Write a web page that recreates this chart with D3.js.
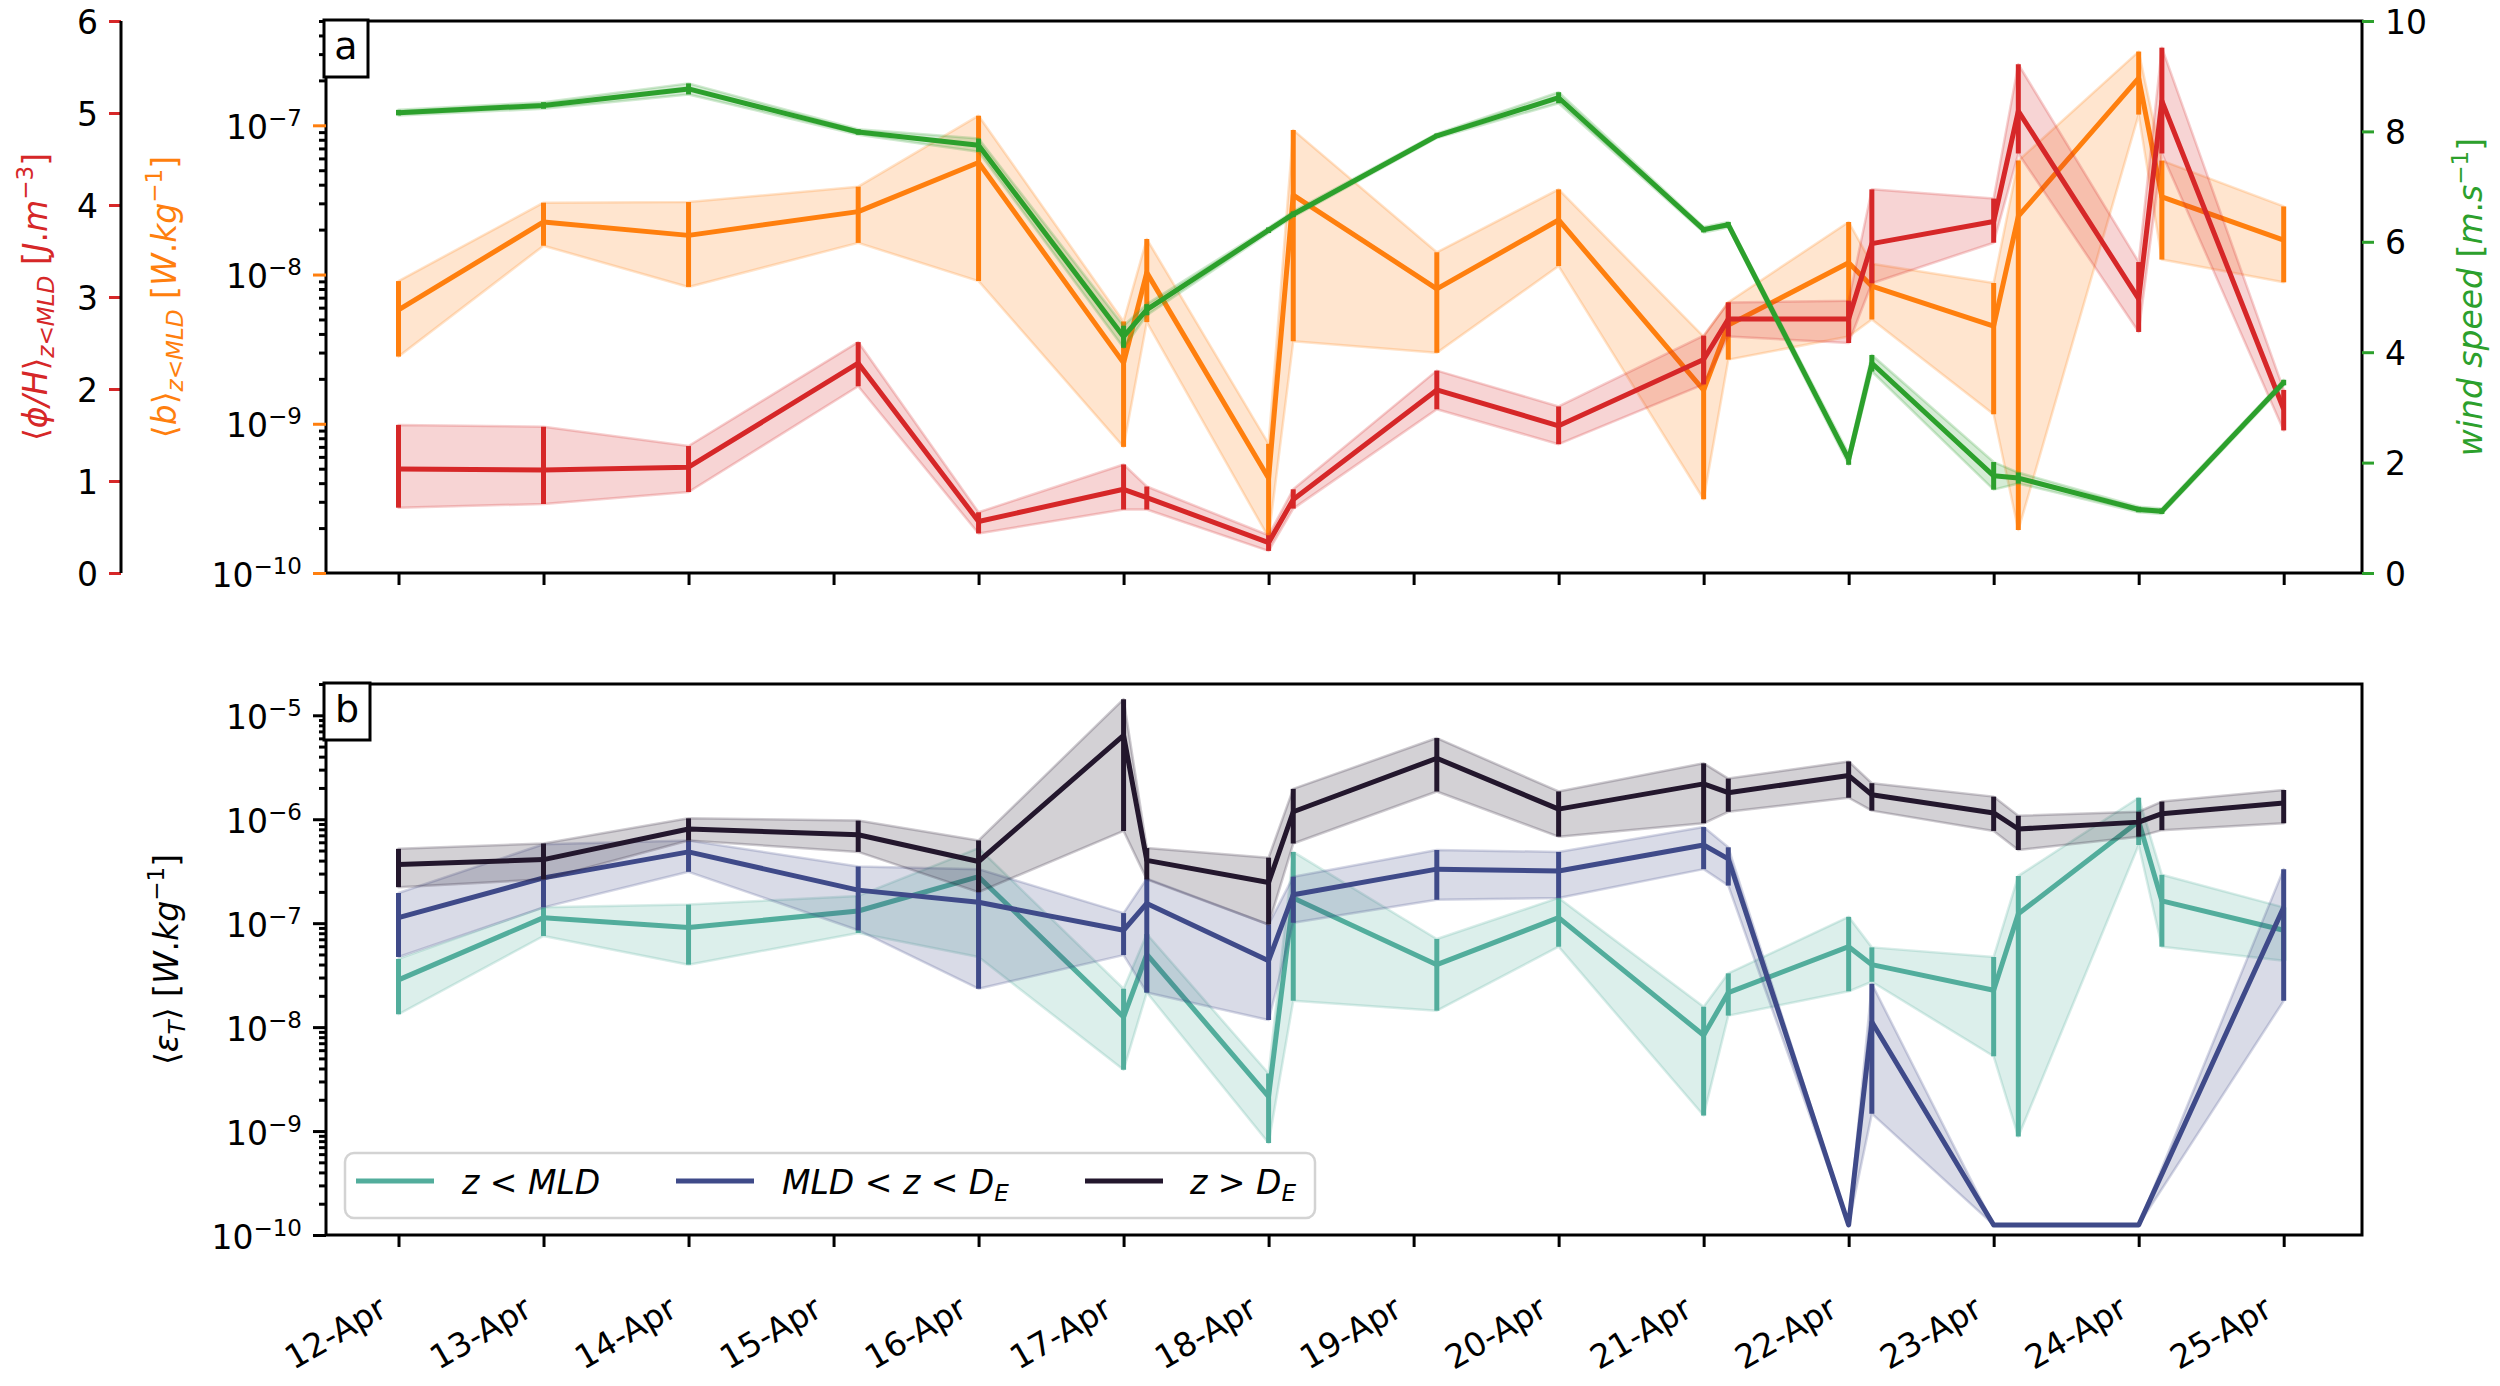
<!DOCTYPE html>
<html><head><meta charset="utf-8">
<script src="https://cdn.jsdelivr.net/npm/d3@7"></script>
<style>
body{margin:0;background:#fff}
svg{display:block}
text{font-family:"DejaVu Sans",sans-serif;white-space:pre}
</style>
</head><body>
<svg id="c" width="2500" height="1386"></svg>
<script>
// ---------------- DATA ----------------
const dayTicks = [0,1,2,3,4,5,6,7,8,9,10,11,12,13];
const dayLabels = ["12-Apr","13-Apr","14-Apr","15-Apr","16-Apr","17-Apr","18-Apr","19-Apr","20-Apr","21-Apr","22-Apr","23-Apr","24-Apr","25-Apr"];
// days since 12-Apr 00:00
const times = [0,1,2,3.17,4,5,5.16,6,6.17,7.16,8,9,9.17,10,10.16,11,11.17,12,12.16,13];

// panel a : <phi/H> (J m-3), linear outer axis
const phiH     = [1.13,1.12,1.15,2.28,0.56,0.91,0.82,0.33,0.80,1.99,1.60,2.32,2.76,2.76,3.58,3.82,5.02,2.98,5.13,1.78];
const phiHLow  = [0.71,0.75,0.88,2.03,0.43,0.69,0.69,0.24,0.70,1.78,1.40,2.05,2.57,2.50,3.15,3.59,4.56,2.62,4.56,1.55];
const phiHHigh = [1.61,1.59,1.38,2.51,0.66,1.18,0.94,0.41,0.91,2.20,1.81,2.58,2.94,2.96,4.17,4.07,5.53,3.38,5.71,1.99];

// panel a : <b> (W kg-1), log axis
const buoy     = [5.80e-9,2.25e-8,1.83e-8,2.64e-8,5.63e-8,2.56e-9,1.03e-8,4.31e-10,3.41e-8,8.02e-9,2.32e-8,1.68e-9,4.58e-9,1.20e-8,8.36e-9,4.52e-9,2.46e-8,2.07e-7,3.31e-8,1.70e-8];
const buoyLow  = [2.82e-9,1.56e-8,8.26e-9,1.63e-8,9.04e-9,7.0e-10,4.80e-9,1.73e-10,3.57e-9,2.99e-9,1.14e-8,3.12e-10,2.69e-9,3.84e-9,5.0e-9,1.16e-9,1.94e-10,1.18e-7,1.26e-8,8.87e-9];
const buoyHigh = [9.04e-9,3.03e-8,3.06e-8,3.88e-8,1.16e-7,4.85e-9,1.73e-8,7.34e-10,9.29e-8,1.41e-8,3.72e-8,3.84e-9,6.52e-9,2.25e-8,1.18e-8,8.77e-9,5.80e-8,3.12e-7,5.80e-8,2.86e-8];

// panel a : wind speed (m s-1)
const wind     = [8.34,8.47,8.77,7.99,7.75,4.28,4.77,6.21,6.50,7.92,8.61,6.22,6.31,2.06,3.80,1.76,1.72,1.15,1.12,3.45];
const windLow  = [8.29,8.41,8.67,7.94,7.63,4.08,4.67,6.16,6.45,7.88,8.51,6.17,6.26,1.96,3.65,1.51,1.62,1.10,1.07,3.40];
const windHigh = [8.39,8.53,8.87,8.04,7.87,4.48,4.87,6.26,6.55,7.96,8.71,6.27,6.36,2.16,3.95,2.01,1.82,1.20,1.17,3.50];

// panel b : <eps_T> (W kg-1)
const epsMLD     = [2.85e-8,1.13e-7,9.08e-8,1.31e-7,2.80e-7,1.25e-8,5.02e-8,2.15e-9,1.75e-7,3.99e-8,1.13e-7,8.34e-9,2.15e-8,5.94e-8,3.99e-8,2.26e-8,1.23e-7,9.55e-7,1.64e-7,8.55e-8];
const epsMLDLow  = [1.33e-8,7.53e-8,3.99e-8,8.05e-8,4.73e-8,3.89e-9,2.15e-8,7.67e-10,1.79e-8,1.44e-8,5.94e-8,1.41e-9,1.29e-8,2.21e-8,2.73e-8,5.24e-9,8.85e-10,5.65e-7,5.94e-8,4.35e-8];
const epsMLDHigh = [4.53e-8,1.42e-7,1.51e-7,1.83e-7,5.28e-7,2.34e-8,7.86e-8,3.58e-9,4.85e-7,7.05e-8,1.75e-7,1.57e-8,3.29e-8,1.15e-7,5.85e-8,4.73e-8,2.85e-7,1.61e-6,2.92e-7,1.42e-7];

const epsMid     = [1.13e-7,2.73e-7,4.85e-7,2.08e-7,1.59e-7,8.55e-8,1.55e-7,4.35e-8,1.88e-7,3.31e-7,3.18e-7,5.65e-7,4.16e-7,1.25e-10,1.12e-8,1.25e-10,1.25e-10,1.25e-10,null,1.42e-7];
const epsMidLow  = [4.73e-8,1.42e-7,3.12e-7,8.55e-8,2.34e-8,4.93e-8,2.15e-8,1.17e-8,1.01e-7,1.68e-7,1.75e-7,3.31e-7,2.30e-7,1.25e-10,1.47e-9,1.25e-10,1.25e-10,1.25e-10,null,1.79e-8];
const epsMidHigh = [1.95e-7,5.75e-7,6.25e-7,3.51e-7,3.31e-7,1.25e-7,2.68e-7,9.71e-8,2.80e-7,5.06e-7,4.85e-7,8.41e-7,5.37e-7,1.25e-10,2.61e-8,1.25e-10,1.25e-10,1.25e-10,null,3.31e-7];

const epsDeep     = [3.67e-7,4.09e-7,8.05e-7,7.09e-7,3.92e-7,6.41e-6,4.02e-7,2.46e-7,1.18e-6,3.86e-6,1.25e-6,2.19e-6,1.80e-6,2.63e-6,1.72e-6,1.15e-6,8.05e-7,9.38e-7,1.13e-6,1.43e-6];
const epsDeepLow  = [2.22e-7,2.64e-7,6.25e-7,4.85e-7,1.99e-7,7.72e-7,2.64e-7,9.71e-8,5.84e-7,1.85e-6,6.80e-7,9.14e-7,1.18e-6,1.61e-6,1.21e-6,7.72e-7,5.06e-7,6.80e-7,7.85e-7,9.14e-7];
const epsDeepHigh = [5.19e-7,5.84e-7,1.02e-6,9.70e-7,6.25e-7,1.43e-5,5.28e-7,4.27e-7,1.96e-6,6.04e-6,1.85e-6,3.45e-6,2.46e-6,3.60e-6,2.22e-6,1.65e-6,1.08e-6,1.18e-6,1.48e-6,1.91e-6];

const phiTicks  = [0,1,2,3,4,5,6];
const windTicks = [0,2,4,6,8,10];
const buoyExps  = [-10,-9,-8,-7];
const epsExps   = [-10,-9,-8,-7,-6,-5];

// ---------------- STYLE ----------------
const C = {red:"#d62728", orange:"#ff7f0e", green:"#2ca02c", teal:"#52ad9c", navy:"#3f4a89", dark:"#23172d"};
const FS = 33;
const LW = 5;
const svg = d3.select("#c");

// panel geometry
const L = 326, R = 2362;
const aTop = 21, aBot = 573, bTop = 684, bBot = 1235;

const x = d3.scaleLinear().domain([-0.5, 13.54]).range([L, R]);
const yPhi  = d3.scaleLinear().domain([0, 6]).range([aBot, aTop]);
const yBuoy = d3.scaleLog().domain([1e-10, 5e-7]).range([aBot, aTop]);
const yWind = d3.scaleLinear().domain([0, 10]).range([aBot, aTop]);
const yEps  = d3.scaleLog().domain([1e-10, 2e-5]).range([bBot, bTop]);

function series(g, ys, lo, hi, yS, color, lw) {
  const data = times.map((t,i)=>({t, v:ys[i], lo:lo[i], hi:hi[i]})).filter(d=>d.v!=null);
  const area = d3.area().x(d=>x(d.t)).y0(d=>yS(d.lo)).y1(d=>yS(d.hi));
  g.append("path").attr("d", area(data))
    .attr("fill", color).attr("fill-opacity", 0.2)
    .attr("stroke", color).attr("stroke-opacity", 0.22).attr("stroke-width", 2.5)
    .attr("stroke-linejoin","round");
  const line = d3.line().x(d=>x(d.t)).y(d=>yS(d.v));
  g.append("path").attr("d", line(data)).attr("fill","none")
    .attr("stroke", color).attr("stroke-width", lw).attr("stroke-linejoin","round");
  g.selectAll(null).data(data).join("line")
    .attr("x1", d=>x(d.t)).attr("x2", d=>x(d.t))
    .attr("y1", d=>yS(d.lo)).attr("y2", d=>yS(d.hi))
    .attr("stroke", color).attr("stroke-width", lw);
}

function mathText(parent, segs, fs) {
  const t = parent.append("text").attr("font-size", fs);
  let cur = 0;
  segs.forEach(s => {
    const target = s.sub ? fs*0.2 : (s.sup ? -fs*0.42 : 0);
    const ts = t.append("tspan").text(s.t);
    if (target !== cur) { ts.attr("dy", target - cur); cur = target; }
    if (s.i) ts.attr("font-style","italic");
    if (s.sub || s.sup) ts.attr("font-size", fs*0.7);
  });
  return t;
}

function styleAxis(g, tickColor) {
  g.attr("font-family", null).attr("font-size", null);
  g.select(".domain").remove();
  g.selectAll(".tick line").attr("stroke", tickColor).attr("stroke-width", 3);
}

function logAxis(g, yS, exps, minorColor, majorColor) {
  const lo = yS.domain()[0], hi = yS.domain()[1];
  const minors = [];
  for (let e = -10; e <= -5; e++) for (let m = 2; m <= 9; m++) { const v = m*Math.pow(10,e); if (v >= lo && v <= hi*1.0001) minors.push(v); }
  const gm = g.append("g").call(d3.axisLeft(yS).tickValues(minors).tickSize(7).tickFormat(""));
  styleAxis(gm, minorColor);
  const gM = g.append("g").call(d3.axisLeft(yS).tickValues(exps.map(e=>Math.pow(10,e))).tickSize(13).tickFormat(""));
  styleAxis(gM, majorColor);
  gM.selectAll(".tick").each(function(d){
    const e = Math.round(Math.log10(d));
    const t = d3.select(this).select("text").attr("x", -24).attr("y", 13).attr("dy", null)
      .attr("text-anchor","end").attr("font-size", FS).attr("fill","#000");
    t.append("tspan").text("10");
    t.append("tspan").text("\u2212" + (-e)).attr("font-size", 23).attr("dy", -13);
  });
}

// ---------------- PANEL A ----------------
const gA = svg.append("g");
series(gA.append("g"), buoy, buoyLow, buoyHigh, yBuoy, C.orange, LW);
series(gA.append("g"), phiH, phiHLow, phiHHigh, yPhi, C.red, LW);
series(gA.append("g"), wind, windLow, windHigh, yWind, C.green, LW);

// frame
svg.append("rect").attr("x", L).attr("y", aTop).attr("width", R-L).attr("height", aBot-aTop)
  .attr("fill","none").attr("stroke","#000").attr("stroke-width",3);

// left log axis (orange major ticks)
logAxis(svg.append("g").attr("transform",`translate(${L},0)`), yBuoy, buoyExps, "#000", C.orange);

// outer red linear axis
{
  const g = svg.append("g").attr("transform","translate(121,0)")
    .call(d3.axisLeft(yPhi).tickValues(phiTicks).tickSize(12).tickSizeOuter(0).tickFormat(d3.format("d")));
  styleAxis(g, C.red);
  g.selectAll(".tick text").attr("x",-23).attr("dy",null).attr("y",12).attr("font-size",FS).attr("fill","#000");
  g.append("line").attr("x1",0).attr("x2",0).attr("y1",aTop).attr("y2",aBot).attr("stroke","#000").attr("stroke-width",3);
}
// right wind axis
{
  const g = svg.append("g").attr("transform",`translate(${R},0)`)
    .call(d3.axisRight(yWind).tickValues(windTicks).tickSize(12).tickSizeOuter(0).tickFormat(d3.format("d")));
  styleAxis(g, C.green);
  g.selectAll(".tick text").attr("x",23).attr("dy",null).attr("y",12).attr("font-size",FS).attr("fill","#000");
}
// bottom ticks panel a
{
  const g = svg.append("g").attr("transform",`translate(0,${aBot})`)
    .call(d3.axisBottom(x).tickValues(dayTicks).tickSize(12).tickFormat(""));
  styleAxis(g, "#000");
}

// axis labels panel a
const aMid = (aTop + aBot)/2;
mathText(svg.append("g").attr("transform",`translate(47,${aMid}) rotate(-90)`), [
  {t:"\u27E8"},{t:"\u03D5/H",i:1},{t:"\u27E9"},{t:"z<MLD",i:1,sub:1},{t:" ["},{t:"J",i:1},{t:"."},{t:"m",i:1},{t:"\u22123",sup:1},{t:"]"}
], FS).attr("text-anchor","middle").attr("fill", C.red);
mathText(svg.append("g").attr("transform",`translate(176,${aMid}) rotate(-90)`), [
  {t:"\u27E8"},{t:"b",i:1},{t:"\u27E9"},{t:"z<MLD",i:1,sub:1},{t:" ["},{t:"W",i:1},{t:"."},{t:"kg",i:1},{t:"\u22121",sup:1},{t:"]"}
], FS).attr("text-anchor","middle").attr("fill", C.orange);
mathText(svg.append("g").attr("transform",`translate(2482,${aMid}) rotate(-90)`), [
  {t:"wind speed",i:1},{t:" ["},{t:"m",i:1},{t:"."},{t:"s",i:1},{t:"\u22121",sup:1},{t:"]"}
], FS).attr("text-anchor","middle").attr("fill", C.green);

// panel letter
function panelLetter(letter, y0, w) {
  const g = svg.append("g");
  g.append("rect").attr("x", L-2).attr("y", y0).attr("width", w).attr("height", 57)
    .attr("fill","#fff").attr("stroke","#000").attr("stroke-width",3);
  g.append("text").attr("x", L-2+w/2).attr("y", y0+39).attr("text-anchor","middle")
    .attr("font-family","DejaVu Serif, serif").attr("font-size",38).text(letter);
}
panelLetter("a", aTop-1, 44);

// ---------------- PANEL B ----------------
const gB = svg.append("g");
series(gB.append("g"), epsMLD, epsMLDLow, epsMLDHigh, yEps, C.teal, LW);
series(gB.append("g"), epsMid, epsMidLow, epsMidHigh, yEps, C.navy, LW);
series(gB.append("g"), epsDeep, epsDeepLow, epsDeepHigh, yEps, C.dark, LW);

svg.append("rect").attr("x", L).attr("y", bTop).attr("width", R-L).attr("height", bBot-bTop)
  .attr("fill","none").attr("stroke","#000").attr("stroke-width",3);
logAxis(svg.append("g").attr("transform",`translate(${L},0)`), yEps, epsExps, "#000", "#000");
{
  const g = svg.append("g").attr("transform",`translate(0,${bBot})`)
    .call(d3.axisBottom(x).tickValues(dayTicks).tickSize(12).tickFormat(""));
  styleAxis(g, "#000");
  g.selectAll(".tick").each(function(d,i){
    d3.select(this).select("text").remove();
    d3.select(this).append("text").attr("transform","translate(-10,80) rotate(-30)")
      .attr("text-anchor","end").attr("font-size",FS).attr("fill","#000").text(dayLabels[i]);
  });
}
const bMid = (bTop + bBot)/2;
mathText(svg.append("g").attr("transform",`translate(178,${bMid}) rotate(-90)`), [
  {t:"\u27E8"},{t:"\u03B5",i:1},{t:"T",i:1,sub:1},{t:"\u27E9 ["},{t:"W",i:1},{t:"."},{t:"kg",i:1},{t:"\u22121",sup:1},{t:"]"}
], FS).attr("text-anchor","middle").attr("fill", "#000");
panelLetter("b", bTop-1, 46);

// legend
{
  const g = svg.append("g");
  g.append("rect").attr("x",345).attr("y",1153).attr("width",970).attr("height",65).attr("rx",9)
    .attr("fill","#fff").attr("fill-opacity",0.8).attr("stroke","#d3d3d3").attr("stroke-width",2.5);
  const items = [
    {c:C.teal, x0:356, tx:462, segs:[{t:"z < MLD",i:1}]},
    {c:C.navy, x0:676, tx:782, segs:[{t:"MLD < z < D",i:1},{t:"E",i:1,sub:1}]},
    {c:C.dark, x0:1085, tx:1190, segs:[{t:"z > D",i:1},{t:"E",i:1,sub:1}]}
  ];
  items.forEach(it=>{
    g.append("line").attr("x1",it.x0).attr("x2",it.x0+78).attr("y1",1181).attr("y2",1181)
      .attr("stroke",it.c).attr("stroke-width",LW);
    const tg = g.append("g").attr("transform",`translate(${it.tx},1194)`);
    mathText(tg, it.segs, FS).attr("fill","#000");
  });
}
</script>
</body></html>
